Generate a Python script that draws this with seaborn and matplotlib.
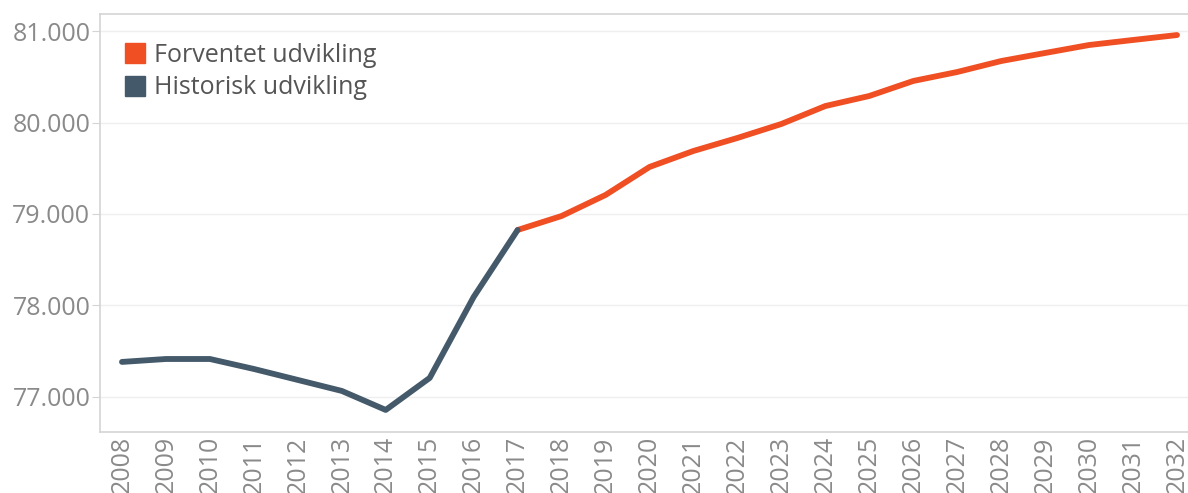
import matplotlib
matplotlib.use("Agg")
import matplotlib.pyplot as plt
import seaborn as sns
import pandas as pd
from matplotlib.lines import Line2D
from matplotlib.ticker import FuncFormatter

hist_years = [2008, 2009, 2010, 2011, 2012, 2013, 2014, 2015, 2016, 2017]
hist_values = [77383, 77415, 77415, 77306, 77186, 77066, 76858, 77208, 78093, 78825]

fc_years = [2017, 2018, 2019, 2020, 2021, 2022, 2023, 2024, 2025, 2026, 2027,
            2028, 2029, 2030, 2031, 2032]
fc_values = [78825, 78978, 79208, 79514, 79689, 79831, 79984, 80180, 80290,
             80454, 80552, 80672, 80760, 80847, 80902, 80956]

series_names = ["Forventet udvikling", "Historisk udvikling"]
colors = {"Forventet udvikling": "#F04E23", "Historisk udvikling": "#44596A"}

df = pd.concat([
    pd.DataFrame({"year": fc_years, "value": fc_values, "series": series_names[0]}),
    pd.DataFrame({"year": hist_years, "value": hist_values, "series": series_names[1]}),
])

sns.set_style("white")
plt.rcParams['font.family'] = ['Open Sans', 'DejaVu Sans']

fig = plt.figure(figsize=(11.88, 4.93), dpi=100)
ax = fig.add_axes([100/1188, 1 - 432/493, 1088/1188, 418/493])

sns.lineplot(data=df, x="year", y="value", hue="series", hue_order=series_names,
             palette=colors, linewidth=4.2, ax=ax, legend=False,
             solid_capstyle="round", solid_joinstyle="round")

ax.set_xlim(2007.5, 2032.25)
ax.set_ylim(76617, 81186)
ax.set_xticks(list(range(2008, 2033)))
ax.set_xticklabels([str(y) for y in range(2008, 2033)], rotation=90)
ax.set_yticks([77000, 78000, 79000, 80000, 81000])
ax.yaxis.set_major_formatter(FuncFormatter(lambda v, p: f"{int(v):,}".replace(",", ".")))
ax.set_xlabel("")
ax.set_ylabel("")

ax.grid(axis="y", color="#EFEFEF", linewidth=1)
ax.grid(axis="x", visible=False)
for s in ["left", "bottom", "top"]:
    ax.spines[s].set_color("#D4D4D4")
    ax.spines[s].set_linewidth(1.2)
ax.spines["right"].set_visible(False)

ax.tick_params(axis="y", which="major", length=6, color="#D4D4D4", labelsize=18,
               labelcolor="#8A8A8A", pad=1, left=True)
ax.tick_params(axis="x", which="major", length=0, labelsize=18, labelcolor="#8A8A8A", pad=3)

handles = [Line2D([0], [0], marker="s", linestyle="none", markersize=14,
                  markerfacecolor=colors[n], markeredgecolor=colors[n]) for n in series_names]
leg = ax.legend(handles, series_names, loc="upper left", bbox_to_anchor=(0.0, 0.985),
                frameon=False, fontsize=18, handletextpad=0.25, labelspacing=0.3,
                borderaxespad=0.5, handlelength=1.0)
for t in leg.get_texts():
    t.set_color("#555555")

fig.savefig("out.png", dpi=100)
